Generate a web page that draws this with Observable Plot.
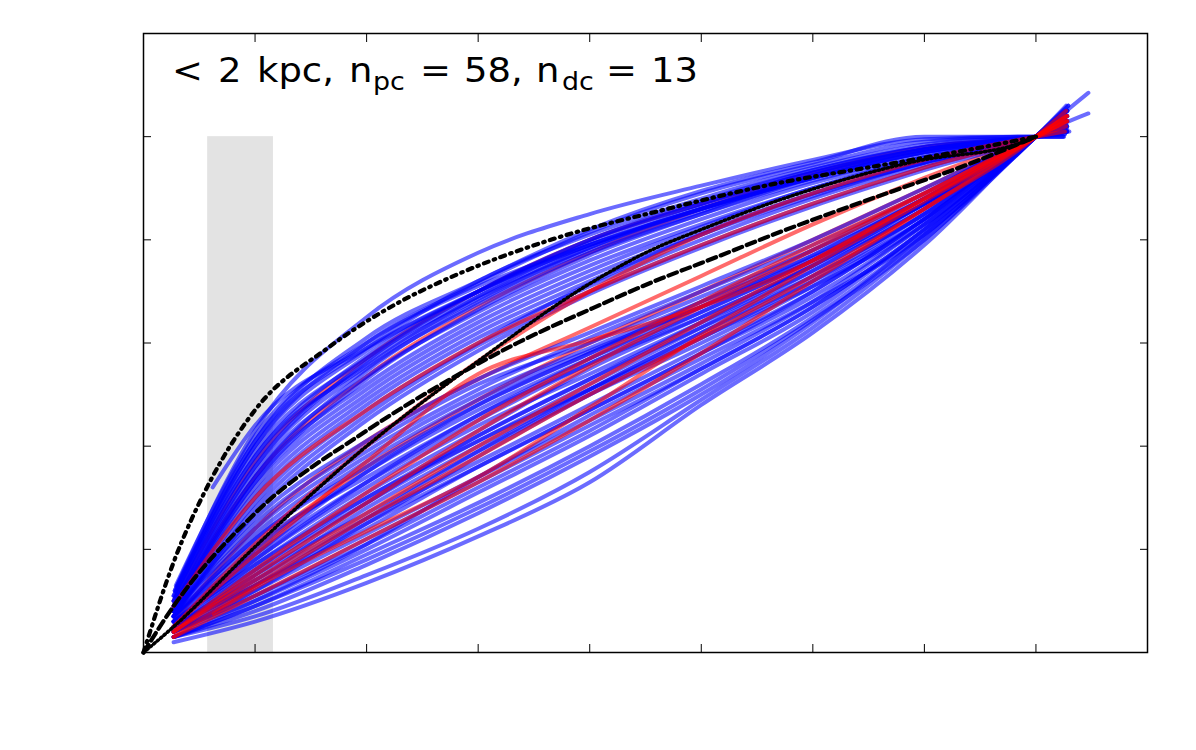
<!DOCTYPE html>
<html><head><meta charset="utf-8">
<script src="https://cdn.jsdelivr.net/npm/d3@7"></script>
<script src="https://cdn.jsdelivr.net/npm/@observablehq/plot@0.6"></script>
<style>body{margin:0;background:#fff} svg{display:block;background:#fff}</style>
</head><body><div id="chart"></div>
<script>
// shared sampling radii (interior points); each curve also has its own first and last radius
const xGrid = [1, 2, 3, 4, 5, 6, 7, 8];
const xTicks = [1, 2, 3, 4, 5, 6, 7, 8];
const yTicks = [0.2, 0.4, 0.6, 0.8, 1.0];
const shadeX = [0.575, 1.165];
const shadeY = [0, 1.0];

// 58 blue curves: [first, at x=1..8, last]
const blueY = [
  [0.13, 0.43, 0.65, 0.775, 0.85, 0.905, 0.955, 0.995, 1.0, 1.0],
  [0.13, 0.42, 0.60, 0.71, 0.79, 0.86, 0.92, 0.97, 1.0, 1.01],
  [0.12, 0.41, 0.59, 0.72, 0.81, 0.88, 0.94, 0.985, 1.0, 1.005],
  [0.12, 0.40, 0.585, 0.70, 0.80, 0.875, 0.935, 0.98, 1.0, 1.01],
  [0.11, 0.39, 0.57, 0.69, 0.785, 0.865, 0.93, 0.975, 1.0, 1.01],
  [0.11, 0.38, 0.575, 0.70, 0.79, 0.86, 0.92, 0.97, 1.0, 1.01],
  [0.10, 0.37, 0.56, 0.685, 0.78, 0.855, 0.925, 0.975, 1.0, 1.01],
  [0.10, 0.36, 0.55, 0.675, 0.775, 0.85, 0.915, 0.965, 1.0, 1.015],
  [0.09, 0.35, 0.535, 0.66, 0.76, 0.84, 0.91, 0.96, 1.0, 1.015],
  [0.09, 0.34, 0.52, 0.65, 0.75, 0.83, 0.90, 0.96, 1.0, 1.015],
  [0.09, 0.33, 0.51, 0.64, 0.74, 0.825, 0.90, 0.955, 1.0, 1.02],
  [0.08, 0.32, 0.50, 0.63, 0.73, 0.815, 0.89, 0.95, 1.0, 1.02],
  [0.08, 0.31, 0.49, 0.62, 0.72, 0.81, 0.885, 0.95, 1.0, 1.02],
  [0.08, 0.30, 0.48, 0.61, 0.71, 0.80, 0.88, 0.945, 1.0, 1.02],
  [0.07, 0.29, 0.47, 0.60, 0.715, 0.81, 0.89, 0.95, 1.0, 1.02],
  [0.08, 0.33, 0.53, 0.665, 0.77, 0.85, 0.92, 0.97, 1.0, 1.01],
  [0.11, 0.40, 0.60, 0.715, 0.815, 0.89, 0.945, 0.99, 1.0, 1.0],
  [0.12, 0.41, 0.61, 0.72, 0.82, 0.895, 0.95, 1.0, 1.0, 1.0],
  [0.07, 0.28, 0.46, 0.595, 0.70, 0.79, 0.87, 0.94, 1.0, 1.02],
  [0.07, 0.27, 0.45, 0.585, 0.695, 0.785, 0.865, 0.935, 1.0, 1.025],
  [0.32, 0.44, 0.59, 0.70, 0.79, 0.86, 0.92, 0.97, 1.0, 1.01],
  [0.09, 0.36, 0.565, 0.70, 0.80, 0.87, 0.93, 0.975, 1.0, 1.005],
  [0.08, 0.34, 0.545, 0.68, 0.785, 0.86, 0.925, 0.975, 1.0, 1.01],
  [0.10, 0.38, 0.555, 0.69, 0.795, 0.87, 0.935, 0.98, 1.0, 1.01],
  [0.02, 0.06, 0.135, 0.225, 0.33, 0.48, 0.62, 0.79, 1.0, 1.085],
  [0.03, 0.07, 0.15, 0.24, 0.35, 0.49, 0.63, 0.80, 1.0, 1.05],
  [0.03, 0.08, 0.17, 0.27, 0.38, 0.50, 0.64, 0.81, 1.0, 1.06],
  [0.03, 0.09, 0.19, 0.29, 0.40, 0.52, 0.65, 0.81, 1.0, 1.06],
  [0.04, 0.10, 0.20, 0.31, 0.42, 0.54, 0.66, 0.82, 1.0, 1.05],
  [0.04, 0.11, 0.22, 0.33, 0.44, 0.55, 0.67, 0.82, 1.0, 1.05],
  [0.04, 0.12, 0.23, 0.34, 0.45, 0.56, 0.68, 0.83, 1.0, 1.05],
  [0.05, 0.13, 0.24, 0.36, 0.47, 0.58, 0.69, 0.83, 1.0, 1.05],
  [0.05, 0.14, 0.26, 0.37, 0.48, 0.59, 0.70, 0.84, 1.0, 1.04],
  [0.05, 0.15, 0.27, 0.39, 0.50, 0.60, 0.71, 0.84, 1.0, 1.045],
  [0.06, 0.16, 0.29, 0.41, 0.51, 0.61, 0.72, 0.85, 1.0, 1.04],
  [0.06, 0.17, 0.30, 0.42, 0.53, 0.63, 0.73, 0.85, 1.0, 1.04],
  [0.06, 0.18, 0.32, 0.44, 0.54, 0.64, 0.74, 0.86, 1.0, 1.03],
  [0.07, 0.19, 0.33, 0.45, 0.56, 0.65, 0.75, 0.86, 1.0, 1.03],
  [0.07, 0.20, 0.35, 0.47, 0.57, 0.66, 0.76, 0.87, 1.0, 1.03],
  [0.07, 0.22, 0.37, 0.49, 0.585, 0.67, 0.765, 0.87, 1.0, 1.03],
  [0.08, 0.23, 0.38, 0.50, 0.59, 0.68, 0.77, 0.88, 1.0, 1.03],
  [0.08, 0.25, 0.40, 0.52, 0.60, 0.69, 0.78, 0.88, 1.0, 1.02],
  [0.04, 0.12, 0.25, 0.38, 0.50, 0.61, 0.71, 0.83, 1.0, 1.05],
  [0.05, 0.14, 0.28, 0.40, 0.51, 0.62, 0.73, 0.85, 1.0, 1.04],
  [0.03, 0.10, 0.21, 0.34, 0.46, 0.57, 0.68, 0.81, 1.0, 1.05],
  [0.06, 0.17, 0.31, 0.43, 0.55, 0.65, 0.75, 0.87, 1.0, 1.03],
  [0.07, 0.21, 0.34, 0.46, 0.57, 0.67, 0.77, 0.88, 1.0, 1.03],
  [0.05, 0.16, 0.30, 0.41, 0.52, 0.63, 0.74, 0.86, 1.0, 1.04],
  [0.04, 0.13, 0.26, 0.39, 0.51, 0.62, 0.72, 0.84, 1.0, 1.04],
  [0.08, 0.24, 0.39, 0.51, 0.61, 0.70, 0.79, 0.89, 1.0, 1.02],
  [0.06, 0.19, 0.35, 0.48, 0.58, 0.67, 0.76, 0.87, 1.0, 1.03],
  [0.05, 0.15, 0.29, 0.42, 0.53, 0.64, 0.75, 0.87, 1.0, 1.03],
  [0.03, 0.09, 0.18, 0.28, 0.39, 0.51, 0.645, 0.80, 1.0, 1.06],
  [0.04, 0.11, 0.21, 0.32, 0.43, 0.55, 0.67, 0.82, 1.0, 1.05],
  [0.06, 0.18, 0.33, 0.46, 0.56, 0.66, 0.76, 0.88, 1.0, 1.03],
  [0.07, 0.22, 0.36, 0.48, 0.58, 0.68, 0.78, 0.89, 1.0, 1.02],
  [0.05, 0.13, 0.25, 0.36, 0.47, 0.58, 0.70, 0.84, 1.0, 1.04],
  [0.08, 0.26, 0.41, 0.53, 0.62, 0.71, 0.80, 0.90, 1.0, 1.02]
];
const blueStartX = [
  0.30, 0.29, 0.28, 0.28, 0.27, 0.27, 0.27, 0.27, 0.27, 0.27,
  0.27, 0.27, 0.27, 0.27, 0.27, 0.27, 0.28, 0.29, 0.27, 0.27,
  0.62, 0.27, 0.27, 0.27, 0.27, 0.27, 0.27, 0.27, 0.27, 0.27,
  0.27, 0.27, 0.27, 0.27, 0.27, 0.27, 0.27, 0.27, 0.27, 0.27,
  0.27, 0.27, 0.27, 0.27, 0.27, 0.27, 0.27, 0.27, 0.27, 0.27,
  0.27, 0.27, 0.27, 0.27, 0.27, 0.27, 0.27, 0.27
];
const blueEndX = [
  8.25, 8.28, 8.26, 8.28, 8.27, 8.28, 8.25, 8.27, 8.28, 8.26,
  8.28, 8.27, 8.25, 8.28, 8.27, 8.26, 8.25, 8.24, 8.28, 8.27,
  8.30, 8.26, 8.27, 8.28, 8.47, 8.28, 8.27, 8.29, 8.28, 8.26,
  8.28, 8.27, 8.28, 8.47, 8.27, 8.28, 8.26, 8.28, 8.27, 8.28,
  8.26, 8.27, 8.28, 8.27, 8.28, 8.26, 8.27, 8.28, 8.27, 8.26,
  8.28, 8.27, 8.29, 8.28, 8.27, 8.26, 8.28, 8.27
];

// 13 red curves
const redY = [
  [0.05, 0.21, 0.40, 0.565, 0.70, 0.81, 0.89, 0.955, 1.0, 1.01],
  [0.09, 0.30, 0.47, 0.60, 0.70, 0.79, 0.87, 0.94, 1.0, 1.02],
  [0.05, 0.19, 0.37, 0.54, 0.605, 0.67, 0.76, 0.88, 1.0, 1.03],
  [0.075, 0.125, 0.235, 0.34, 0.475, 0.615, 0.75, 0.875, 1.0, 1.04],
  [0.04, 0.14, 0.27, 0.40, 0.52, 0.64, 0.76, 0.88, 1.0, 1.04],
  [0.03, 0.11, 0.22, 0.33, 0.45, 0.58, 0.72, 0.86, 1.0, 1.05],
  [0.10, 0.37, 0.57, 0.70, 0.80, 0.87, 0.93, 0.98, 1.0, 1.01],
  [0.09, 0.34, 0.535, 0.67, 0.775, 0.86, 0.925, 0.975, 1.0, 1.01],
  [0.04, 0.16, 0.31, 0.45, 0.57, 0.68, 0.79, 0.89, 1.0, 1.03],
  [0.05, 0.20, 0.36, 0.49, 0.60, 0.70, 0.80, 0.90, 1.0, 1.02],
  [0.03, 0.13, 0.26, 0.38, 0.50, 0.61, 0.73, 0.86, 1.0, 1.04],
  [0.06, 0.24, 0.41, 0.53, 0.63, 0.73, 0.83, 0.92, 1.0, 1.02],
  [0.04, 0.15, 0.29, 0.43, 0.555, 0.67, 0.78, 0.89, 1.0, 1.03]
];
const redStartX = [0.27, 0.27, 0.27, 0.63, 0.27, 0.27, 0.27, 0.27, 0.27, 0.27, 0.27, 0.27, 0.27];
const redEndX = [8.26, 8.27, 8.28, 8.27, 8.28, 8.27, 8.25, 8.26, 8.28, 8.27, 8.28, 8.26, 8.27];
// red curves that lie beneath the blue ones (drawn first)
const redBelow = [6, 7, 11, 9];

// black reference profiles
const dashDotX = [0, 0.27, 0.6, 1, 1.65, 2.3, 2.75, 3.65, 4.64, 5.69, 6.49, 7.53, 8];
const dashDotY = [0, 0.175, 0.333, 0.47, 0.59, 0.68, 0.727, 0.80, 0.857, 0.91, 0.94, 0.98, 1.0];
const dottedX = [0, 0.27, 1, 2, 3, 4, 4.55, 5, 5.74, 6.94, 7.84, 8];
const dottedY = [0, 0.05, 0.205, 0.40, 0.565, 0.715, 0.78, 0.82, 0.88, 0.953, 0.986, 1.0];
const dashedX = [0, 0.27, 1, 2, 3, 3.35, 4, 4.64, 5, 5.74, 6.79, 7.24, 8];
const dashedY = [0, 0.09, 0.27, 0.43, 0.56, 0.60, 0.665, 0.725, 0.755, 0.818, 0.90, 0.934, 1.0];

// annotation pieces
const labelParts = ["<", "2", "kpc,", "n", "pc", "=", "58,", "n", "dc", "=", "13"];
const labelSub = [false, false, false, false, true, false, false, false, true, false, false];

function toRows(Y, sx, ex, tag) {
  const rows = [];
  Y.forEach((ys, i) => {
    const xs = [sx[i], ...xGrid, ex[i]];
    xs.forEach((x, j) => rows.push({id: tag + i, below: redBelow.includes(i), x, y: ys[j]}));
  });
  return rows;
}
const blueRows = toRows(blueY, blueStartX, blueEndX, "b");
const redRows = toRows(redY, redStartX, redEndX, "r");
const redUnder = redRows.filter(d => d.below);
const redOver = redRows.filter(d => !d.below);
const pair = (X, Y) => X.map((x, i) => ({x, y: Y[i]}));

const lineStyle = {x: "x", y: "y", z: "id", curve: "monotone-x", strokeOpacity: 0.58, strokeWidth: 4, strokeLinejoin: "round"};

const plot = Plot.plot({
  width: 1196, height: 750,
  marginLeft: 143, marginRight: 49, marginTop: 33, marginBottom: 98,
  x: {domain: [0, 9]},
  y: {domain: [0, 1.2]},
  style: {background: "#fff", overflow: "visible"},
  marks: [
    Plot.rect([{x1: shadeX[0], x2: shadeX[1], y1: shadeY[0], y2: shadeY[1]}],
      {x1: "x1", x2: "x2", y1: "y1", y2: "y2", fill: "#e3e3e3"}),
    Plot.line(redUnder, {...lineStyle, stroke: "#ff0000"}),
    Plot.line(blueRows, {...lineStyle, stroke: "#0000ff"}),
    Plot.line(redOver, {...lineStyle, stroke: "#ff0000"}),
    Plot.line(pair(dashDotX, dashDotY), {x: "x", y: "y", curve: "monotone-x", stroke: "#000", strokeWidth: 4.2, strokeDasharray: "5,5.5,1.5,5.5"}),
    Plot.line(pair(dottedX, dottedY), {x: "x", y: "y", curve: "monotone-x", stroke: "#000", strokeWidth: 3.5, strokeDasharray: "1.5,3"}),
    Plot.line(pair(dashedX, dashedY), {x: "x", y: "y", curve: "monotone-x", stroke: "#000", strokeWidth: 4.2, strokeDasharray: "9,5"}),
    Plot.axisX({ticks: xTicks, anchor: "bottom", tickSize: -8, fill: "none", stroke: "#000", label: null}),
    Plot.axisX({ticks: xTicks, anchor: "top", tickSize: -8, fill: "none", stroke: "#000", label: null}),
    Plot.axisY({ticks: yTicks, anchor: "left", tickSize: -8, fill: "none", stroke: "#000", label: null}),
    Plot.axisY({ticks: yTicks, anchor: "right", tickSize: -8, fill: "none", stroke: "#000", label: null}),
    Plot.frame({stroke: "#000", strokeWidth: 1.5})
  ]
});
document.getElementById("chart").appendChild(plot);

// label layout: left edge of each piece in pixels; the lettering is slightly widened
const labelLeft = [172, 218, 257, 349, 373, 420, 464, 536, 562, 606, 651];
const svg = d3.select(plot);
const g = svg.append("g").attr("font-family", "DejaVu Sans").attr("fill", "#000").attr("text-anchor", "start");
labelParts.forEach((s, i) => {
  g.append("text")
    .attr("transform", `translate(${labelLeft[i]},${labelSub[i] ? 90 : 82}) scale(1.12,1)`)
    .attr("font-size", labelSub[i] ? 24 : 33)
    .text(s);
});
</script>
</body></html>
